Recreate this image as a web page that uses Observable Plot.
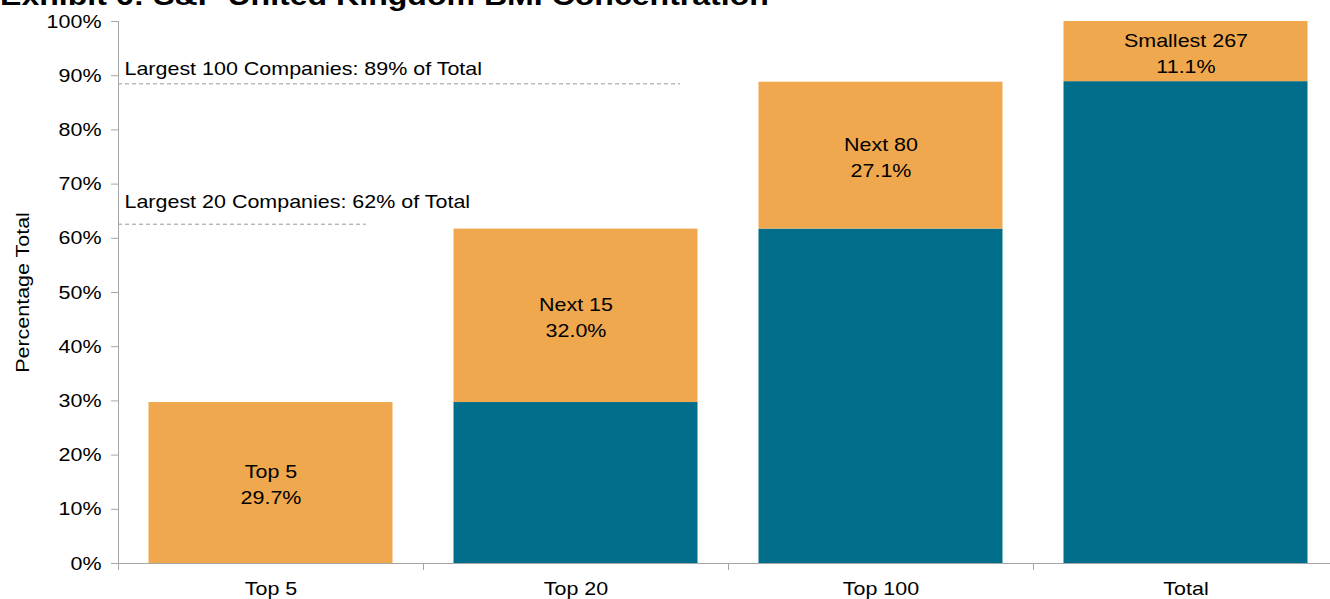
<!DOCTYPE html>
<html>
<head>
<meta charset="utf-8">
<script src="https://cdn.jsdelivr.net/npm/d3@7"></script>
<script src="https://cdn.jsdelivr.net/npm/@observablehq/plot@0.6"></script>
<style>
  html, body { margin: 0; padding: 0; background: #fff; }
  body { width: 1330px; height: 599px; overflow: hidden; position: relative; font-family: "Liberation Sans", Arial, sans-serif; }
  #title { position: absolute; left: 0; top: -18px; font: bold 28px/28px "Liberation Sans", Arial, sans-serif; color: #000; white-space: nowrap; transform: scaleX(1.145); transform-origin: left top; }
  #chart { position: absolute; left: 0; top: 0; width: 1340px; }
  #chart svg { max-width: none !important; }
</style>
</head>
<body>
<div id="title">Exhibit 6: S&amp;P United Kingdom BMI Concentration</div>
<div id="chart"></div>
<script>
// ---- data ----
const categories = ["Top 5", "Top 20", "Top 100", "Total"];
const segmentLabels = ["Top 5", "Next 15", "Next 80", "Smallest 267"];
const baseValues = [0, 29.7, 61.7, 88.9];      // teal (cumulative prior groups)
const segmentValues = [29.7, 32.0, 27.1, 11.1]; // orange (incremental group)
const yTicks = [0, 10, 20, 30, 40, 50, 60, 70, 80, 90, 100];
const refValues = [88.5, 62.6];
const refLabels = ["Largest 100 Companies: 89% of Total", "Largest 20 Companies: 62% of Total"];

const teal = "#006E8A";
const orange = "#F0A84E";
const gray = "#A6A6A6";

const rows = categories.map((c, i) => ({
  i, category: c, label: segmentLabels[i],
  base: baseValues[i], seg: segmentValues[i]
}));

const plot = Plot.plot({
  width: 1340,
  height: 599,
  marginLeft: 118,
  marginRight: 2,
  marginTop: 21,
  marginBottom: 36,
  style: { fontFamily: "'Liberation Sans', Arial, sans-serif", fontSize: "19px", color: "#000", background: "transparent", maxWidth: "none" },
  x: { type: "linear", domain: [0, categories.length], axis: null },
  y: { domain: [0, 100], axis: null },
  marks: [
    // teal base bars
    Plot.rectY(rows.filter(d => d.base > 0), {
      x1: d => d.i, x2: d => d.i + 1, y1: 0, y2: d => d.base,
      fill: teal, insetLeft: 30.5, insetRight: 30.5
    }),
    // orange segment bars
    Plot.rectY(rows, {
      x1: d => d.i, x2: d => d.i + 1, y1: d => d.base, y2: d => d.base + d.seg,
      fill: orange, insetLeft: 30.5, insetRight: 30.5
    }),
    // segment labels
    Plot.text(rows, {
      x: d => d.i + 0.5, y: d => d.base + d.seg / 2,
      text: d => `${d.label}\n${d.seg.toFixed(1)}%`,
      lineHeight: 1.37, fill: "#000", fontSize: 19
    }),
    // reference dashed lines
    Plot.ruleY([refValues[0]], { x1: 0, x2: 1.843, stroke: "#9A9A9A", strokeDasharray: "4,3" }),
    Plot.ruleY([refValues[1]], { x1: 0, x2: 0.813, stroke: "#9A9A9A", strokeDasharray: "4,3" }),
    Plot.text([refLabels[0]], { x: 0, y: refValues[0], text: d => d, textAnchor: "start", dx: 6, dy: -14.5, fill: "#000", fontSize: 19 }),
    Plot.text([refLabels[1]], { x: 0, y: refValues[1], text: d => d, textAnchor: "start", dx: 6, dy: -22.7, fill: "#000", fontSize: 19 }),
    // axes lines
    Plot.ruleY([0], { stroke: gray }),
    Plot.ruleX([0], { y1: 0, y2: 100, stroke: gray }),
    // y axis
    Plot.axisY({ ticks: yTicks, tickFormat: d => d + "%", tickSize: 7, tickPadding: 10, stroke: gray, fill: "#000", label: null }),
    // x axis ticks at band boundaries
    Plot.axisX({ ticks: d3.range(0, categories.length + 1), tickFormat: () => "", tickSize: 7, stroke: gray, label: null }),
    // x axis category labels
    Plot.axisX({ ticks: categories.map((c, i) => i + 0.5), tickFormat: v => categories[Math.floor(v)], tickSize: 0, tickPadding: 18, fill: "#000", label: null }),
    // y axis title
    Plot.text(["Percentage Total"], { frameAnchor: "left", textAnchor: "middle", text: d => d, rotate: -90, dx: -96, fill: "#000", fontSize: 19 })
  ]
});

plot.style.maxWidth = "none";

// horizontally widen text glyphs to match the reference rendering
plot.querySelectorAll("text").forEach(t => {
  const tr = t.getAttribute("transform");
  if (tr && tr.includes("translate")) t.setAttribute("transform", tr + " scale(1.13,1)");
});

document.getElementById("chart").appendChild(plot);
</script>
</body>
</html>
